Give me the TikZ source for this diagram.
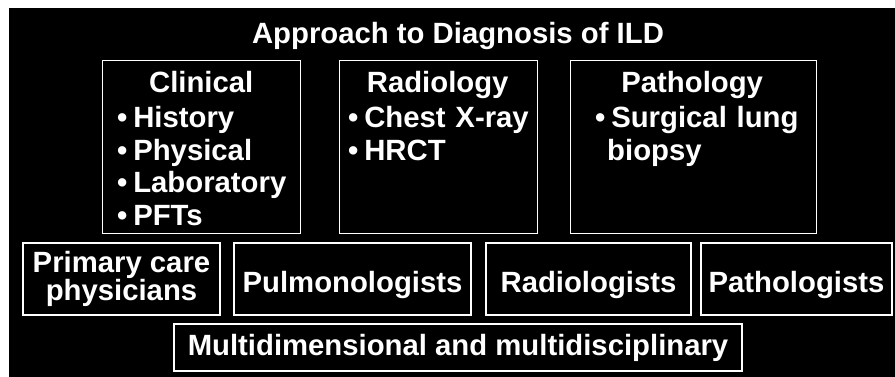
\documentclass[tikz,border=0pt]{standalone}
\usepackage{fontspec}
\setmainfont{Liberation Sans}
\usetikzlibrary{positioning}

\newcommand{\bul}[1]{\mbox{\textbullet\hspace{0.2em}#1}}

\begin{document}
\begin{tikzpicture}[
            x=1pt, y=-1pt,
            every node/.style={text=white,font=\fontsize{29.3}{32.5}\selectfont\bfseries},
            frame/.style={draw=white,line width=1.3pt,inner sep=0pt},
            area box/.style={frame,minimum width=#1,minimum height=173pt,anchor=north west},
            role box/.style={frame,minimum width=#1,minimum height=72pt,align=center},
            one line/.style={text height=26pt,text depth=0pt},
            items/.style={inner sep=0pt,align=left,text width=#1},
        ]
            \useasboundingbox (0,0) rectangle (895,377);
            \fill[white] (0,0) rectangle (895,377);
            \fill[black] (9,8) rectangle (895,377);

            \node[anchor=base] (title) at (458,44) {Approach to Diagnosis of ILD};

            \node[area box=198pt] (clinical) at (102,60) {};
            \node[area box=198pt] (radiology) at (339,60) {};
            \node[area box=246pt] (pathology) at (570,60) {};

            \node[items=168pt, below right=11pt and 15pt of clinical.north west] (clinicallist)
                {\makebox[\linewidth]{Clinical}\\[3pt] \bul{History}\\ \bul{Physical}\\
                 \bul{Laboratory}\\ \bul{PFTs}};
            \node[items=179pt, below right=11pt and 9pt of radiology.north west] (radiologylist)
                {\makebox[\linewidth]{Radiology}\\[3pt] \bul{Chest X-ray}\\ \bul{HRCT}};
            \node[items=194pt, below right=11pt and 25pt of pathology.north west] (pathologylist)
                {\makebox[\linewidth]{Pathology}\\[3pt] \bul{Surgical lung}\\ \hspace*{12pt}biopsy};

            \node[role box=197pt, font=\fontsize{29.3}{28}\selectfont\bfseries] (primary) at (121.5,279)
                {Primary care\\physicians};
            \node[role box=237pt, one line] (pulmonologists) at (352.5,279) {Pulmonologists};
            \node[role box=205pt, one line] (radiologists) at (588.5,279) {Radiologists};
            \node[role box=191pt, one line] (pathologists) at (796.5,279) {Pathologists};

            \node[frame, minimum width=568pt, minimum height=47pt] (multi) at (458,347.5)
                {Multidimensional and multidisciplinary};
        \end{tikzpicture}
\end{document}
